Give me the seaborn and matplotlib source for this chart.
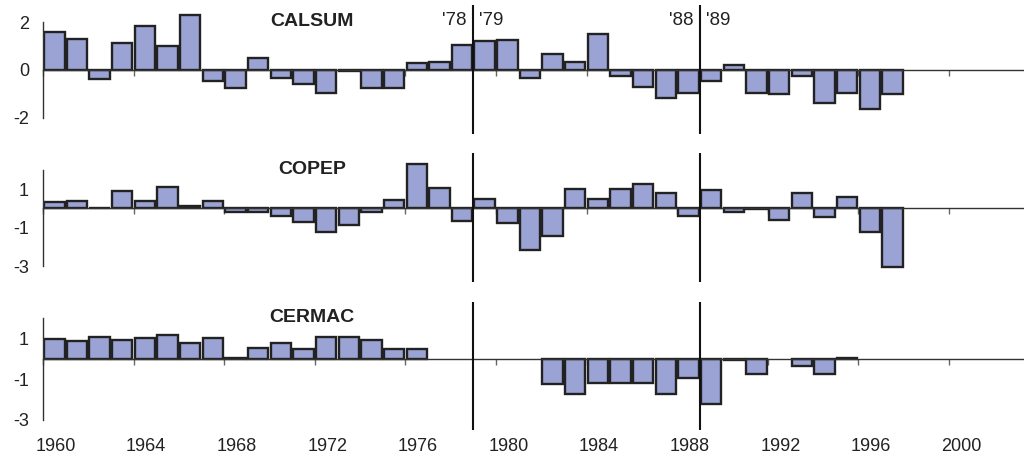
import numpy as np
import pandas as pd
import matplotlib
matplotlib.use("Agg")
import matplotlib.pyplot as plt
import seaborn as sns

# annual index values, one bar per year (bar spans [year, year+1])
years = list(range(1960, 1998))

calsum = [1.57, 1.28, -0.39, 1.14, 1.85, 1.00, 2.31, -0.44, -0.74, 0.49,
          -0.32, -0.60, -0.94, -0.03, -0.76, -0.76, 0.30, 0.33, 1.06, 1.19,
          1.24, -0.33, 0.65, 0.35, 1.49, -0.26, -0.72, -1.17, -0.97, -0.44,
          0.21, -0.94, -1.00, -0.26, -1.39, -0.94, -1.61, -1.00]

copep = [0.32, 0.41, 0.05, 0.90, 0.41, 1.12, 0.13, 0.39, -0.20, -0.17,
         -0.41, -0.72, -1.21, -0.86, -0.17, 0.44, 2.32, 1.05, -0.65, 0.50,
         -0.78, -2.14, -1.44, 1.04, 0.49, 1.03, 1.29, 0.82, -0.37, 0.97,
         -0.19, -0.04, -0.59, 0.80, -0.43, 0.59, -1.22, -3.04]

nan = np.nan
cermac = [0.97, 0.89, 1.05, 0.92, 1.02, 1.16, 0.75, 1.03, 0.05, 0.51,
          0.75, 0.48, 1.07, 1.07, 0.90, 0.46, 0.49, nan, nan, nan,
          nan, nan, -1.26, -1.75, -1.21, -1.21, -1.21, -1.75, -0.93, -2.25,
          -0.05, -0.75, nan, -0.34, -0.75, 0.04, nan, nan]

panel_names = ["CALSUM", "COPEP", "CERMAC"]
panel_ticks = [[-2, 0, 2], [-3, -1, 1], [-3, -1, 1]]
regime_shifts = [1979, 1989]
shift_labels = [("'78", "'79"), ("'88", "'89")]
xtick_years = list(range(1960, 2001, 4))

# layout (pixel rows top/bottom of each panel) and y-limits
W, H = 1024, 459
rows = [(5, 134), (153, 282), (302, 430)]
ylims = [(-2.67, 2.71), (-3.83, 2.89), (-3.51, 2.79)]
spine_top = [2, 2, 2]
px_per_year = 22.65

bar_color = "#9aa3d4"
edge_color = "#222222"
text_color = "#222222"

sns.set_theme(style="white")
plt.rcParams["font.family"] = ["Liberation Sans", "DejaVu Sans"]

fig = plt.figure(figsize=(W / 100, H / 100), dpi=100)

series = [calsum, copep, cermac]
axes = []
for i, vals in enumerate(series):
    top, bot = rows[i]
    ax = fig.add_axes([43 / W, 1 - bot / H, 981 / W, (bot - top) / H])
    df = pd.DataFrame({"mid": np.array(years) + 0.5, "value": vals})
    sns.barplot(data=df, x="mid", y="value", native_scale=True, width=0.9,
                color=bar_color, saturation=1, edgecolor=edge_color,
                linewidth=1.7, errorbar=None, ax=ax)
    ax.set_xlim(1960, 1960 + 981 / px_per_year)
    ax.set_ylim(*ylims[i])
    ax.set_xlabel("")
    ax.set_ylabel("")
    ax.set_facecolor("none")

    for s in ["top", "right"]:
        ax.spines[s].set_visible(False)
    ax.spines["bottom"].set_position(("data", 0))
    ax.spines["bottom"].set_color("#333333")
    ax.spines["bottom"].set_linewidth(1.0)
    ax.spines["left"].set_bounds(panel_ticks[i][0], spine_top[i])
    ax.spines["left"].set_color("#333333")
    ax.spines["left"].set_linewidth(1.0)

    ax.set_yticks(panel_ticks[i])
    ax.set_yticklabels([str(t) for t in panel_ticks[i]])
    ax.tick_params(axis="y", direction="out", length=4, width=1,
                   color="#333333", pad=6, labelsize=13, labelcolor=text_color)
    ax.set_xticks(xtick_years)
    ax.set_xticklabels([])
    ax.tick_params(axis="x", direction="out", length=4.5, width=1,
                   color="#666666", bottom=True)

    for xs in regime_shifts:
        ax.axvline(xs, color="#111111", lw=1.5, zorder=5)

    ax.text(0.274, 0.875, panel_names[i], transform=ax.transAxes,
            ha="center", va="center", fontsize=14, fontweight="bold",
            color=text_color)
    axes.append(ax)

# regime shift labels in the top panel
ax0 = axes[0]
for xs, (before, after) in zip(regime_shifts, shift_labels):
    ax0.text(xs - 0.3, 2.08, before, ha="right", va="center",
             fontsize=13.5, color=text_color)
    ax0.text(xs + 0.25, 2.08, after, ha="left", va="center",
             fontsize=13.5, color=text_color)

# year labels under the bottom panel, centred on the bars
axb = axes[-1]
for yr in xtick_years:
    axb.text(yr + 0.55, -0.13, str(yr), transform=axb.get_xaxis_transform(),
             ha="center", va="center", fontsize=13, color=text_color)

fig.savefig("out.png", dpi=100)
